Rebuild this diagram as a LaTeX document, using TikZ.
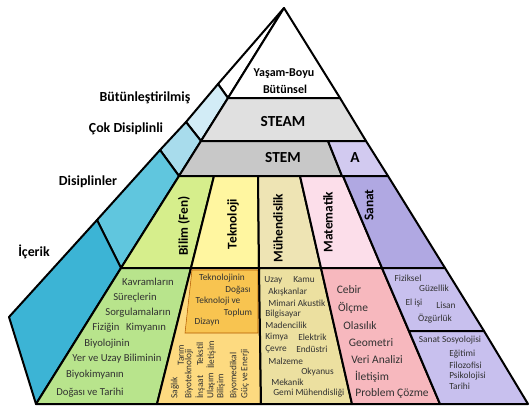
\documentclass[tikz,border=0pt]{standalone}
\usepackage{fontspec}
\setmainfont{Carlito}
\usepackage{tikz}

\definecolor{blueA}{RGB}{210,236,246}
\definecolor{blueB}{RGB}{168,220,236}
\definecolor{blueC}{RGB}{96,198,222}
\definecolor{blueD}{RGB}{60,180,213}
\definecolor{steamgray}{RGB}{224,224,224}
\definecolor{stemgray}{RGB}{200,200,200}
\definecolor{lavA}{RGB}{210,202,240}
\definecolor{bilimtop}{RGB}{214,238,140}
\definecolor{bilimlow}{RGB}{184,228,140}
\definecolor{teknotop}{RGB}{255,246,160}
\definecolor{teknolow}{RGB}{253,218,128}
\definecolor{teknodark}{RGB}{248,196,80}
\definecolor{muhtop}{RGB}{238,228,180}
\definecolor{muhlow}{RGB}{236,224,160}
\definecolor{mattop}{RGB}{252,222,234}
\definecolor{matlow}{RGB}{247,184,190}
\definecolor{sanattop}{RGB}{176,168,226}
\definecolor{sanatlow}{RGB}{200,192,238}
\definecolor{txt}{RGB}{50,50,50}

\begin{document}
\begin{tikzpicture}[x=0.75pt,y=0.75pt,yscale=-1,xscale=1,
    face/.style={draw=black, line width=1.5pt, line join=round},
    lbl/.style={inner sep=0.75pt, font=\fontsize{10.4}{12}\selectfont\bfseries},
    band/.style={inner sep=0.75pt, font=\fontsize{11.5}{13}\selectfont\bfseries},
    col/.style={inner sep=0.75pt, rotate=90, font=\fontsize{10}{12}\selectfont\bfseries},
    sm/.style={inner sep=0.75pt, text=txt, font=\fontsize{7}{8}\selectfont},
    md/.style={inner sep=0.75pt, text=txt, font=\fontsize{8}{9}\selectfont},
    mt/.style={inner sep=0.75pt, text=txt, font=\fontsize{8.6}{10}\selectfont}]
    \useasboundingbox (0,0) rectangle (530,408);

    %Shape: Polygon [left face, top]
    \draw [face, fill=white] (284,8) -- (218,84) -- (228,98) -- cycle ;
    %Shape: Polygon [left face, Bütünleştirilmiş]
    \draw [face, fill=blueA] (218,84) -- (186,122) -- (201,141) -- (228,98) -- cycle ;
    %Shape: Polygon [left face, Çok Disiplinli]
    \draw [face, fill=blueB] (186,122) -- (160,150) -- (179,176) -- (201,141) -- cycle ;
    %Shape: Polygon [left face, Disiplinler]
    \draw [face, fill=blueC] (160,150) -- (97,220) -- (121,268) -- (179,176) -- cycle ;
    %Shape: Polygon [left face, İçerik]
    \draw [face, fill=blueD] (97,220) -- (9,317) -- (36,404) -- (121,268) -- cycle ;

    %Shape: Polygon [top]
    \draw [face, fill=white] (284,8) -- (228,98) -- (340,98) -- cycle ;
    %Shape: Polygon [STEAM]
    \draw [face, fill=steamgray] (228,98) -- (340,98) -- (366,141) -- (201,141) -- cycle ;
    %Shape: Polygon [STEM]
    \draw [face, fill=stemgray] (201,141) -- (328,141) -- (342,176) -- (179,176) -- cycle ;
    %Shape: Polygon [A]
    \draw [face, fill=lavA] (328,141) -- (366,141) -- (388,176) -- (342,176) -- cycle ;

    %Shape: Polygon [columns]
    \draw [face, fill=bilimtop] (179,176) -- (214,176) -- (191,268) -- (121,268) -- cycle ;
    \draw [face, fill=teknotop] (214,176) -- (258,176) -- (259,268) -- (191,268) -- cycle ;
    \draw [face, fill=muhtop] (258,176) -- (300,176) -- (321,268) -- (259,268) -- cycle ;
    \draw [face, fill=mattop] (300,176) -- (343,176) -- (382,268) -- (321,268) -- cycle ;
    \draw [face, fill=sanattop] (343,176) -- (388,176) -- (445,268) -- (382,268) -- cycle ;

    %Shape: Polygon [contents]
    \draw [face, fill=bilimlow] (121,268) -- (191,268) -- (157,404) -- (36,404) -- cycle ;
    \draw [face, fill=teknolow] (191,268) -- (259,268) -- (261,404) -- (157,404) -- cycle ;
    \draw [draw=orange!70!black, line width=0.4pt, fill=teknodark] (192,270) -- (258,270) -- (258,333) -- (185,333) -- cycle ;
    \draw [face, fill=muhlow] (259,268) -- (321,268) -- (352,404) -- (261,404) -- cycle ;
    \draw [face, fill=matlow] (321,268) -- (382,268) -- (440,404) -- (352,404) -- cycle ;
    \draw [face, fill=sanatlow] (382,268) -- (445,268) -- (484,331) -- (409,331) -- cycle ;
    \draw [face, fill=sanatlow] (409,331) -- (484,331) -- (528,404) -- (440,404) -- cycle ;

    % Text Node
    \draw (145,98) node [lbl] (butun) {Bütünleştirilmiş};
    % Text Node
    \draw (126,129) node [lbl] (cokdis) {Çok Disiplinli};
    % Text Node
    \draw (88,182) node [lbl] (disip) {Disiplinler};
    % Text Node
    \draw (34,252) node [lbl] (icerik) {İçerik};

    % Text Node
    \draw (284,74) node [inner sep=0.75pt, font=\fontsize{9}{10}\selectfont\bfseries] (yasam) {Yaşam-Boyu};
    % Text Node
    \draw (285,89) node [inner sep=0.75pt, font=\fontsize{9}{10}\selectfont\bfseries] (butunsel) {Bütünsel};
    % Text Node
    \draw (283,122) node [band] (steam) {STEAM};
    % Text Node
    \draw (283,158) node [band] (stem) {STEM};
    % Text Node
    \draw (355,158) node [band] (artA) {A};

    % Text Node
    \draw (184,226) node [col] (bilim) {Bilim (Fen)};
    % Text Node
    \draw (233,224) node [col] (tekno) {Teknoloji};
    % Text Node
    \draw (278,228) node [col] (muh) {Mühendislik};
    % Text Node
    \draw (328,222) node [col] (mat) {Matematik};
    % Text Node
    \draw (369,205) node [col] (sanat) {Sanat};

    % Text Node
    \draw (148,282) node [md] (b1) {Kavramların};
    \draw (135,298) node [md] (b2) {Süreçlerin};
    \draw (138,313) node [md] (b3) {Sorgulamaların};
    \draw (106,328) node [md] (b4) {Fiziğin};
    \draw (146,328) node [md] (b5) {Kimyanın};
    \draw (107,344) node [md] (b6) {Biyolojinin};
    \draw (117,359) node [md] (b7) {Yer ve Uzay Biliminin};
    \draw (95,375) node [md] (b8) {Biyokimyanın};
    \draw (90,393) node [md] (b9) {Doğası ve Tarihi};

    % Text Node
    \draw (222,278) node [sm] (t1) {Teknolojinin};
    \draw (238,290) node [sm] (t2) {Doğası};
    \draw (218,301) node [sm] (t3) {Teknoloji ve};
    \draw (238,313) node [sm] (t4) {Toplum};
    \draw (207,322) node [sm] (t5) {Dizayn};

    % Text Node
    \draw (175,400) node [sm, rotate=90, anchor=west] (t6) {Sağlık};
    \draw (181,367) node [sm, rotate=90, anchor=west] (t7) {Tarım};
    \draw (189,400) node [sm, rotate=90, anchor=west] (t8) {Biyoteknoloji};
    \draw (200,400) node [sm, rotate=90, anchor=west] (t9) {İnşaat};
    \draw (200,367) node [sm, rotate=90, anchor=west] (t10) {Tekstil};
    \draw (211,400) node [sm, rotate=90, anchor=west] (t11) {Ulaşım};
    \draw (211,370) node [sm, rotate=90, anchor=west] (t12) {İletişim};
    \draw (221,400) node [sm, rotate=90, anchor=west] (t13) {Bilişim};
    \draw (234,400) node [sm, rotate=90, anchor=west] (t14) {Biyomedikal};
    \draw (245,400) node [sm, rotate=90, anchor=west] (t15) {Güç ve Enerji};

    % Text Node
    \draw (263,280) node [sm, anchor=west] (m1) {Uzay};
    \draw (292,280) node [sm, anchor=west] (m2) {Kamu};
    \draw (267,292) node [sm, anchor=west] (m3) {Akışkanlar};
    \draw (267,303) node [sm, anchor=west] (m4) {Mimari Akustik};
    \draw (264,314) node [sm, anchor=west] (m5) {Bilgisayar};
    \draw (264,325) node [sm, anchor=west] (m6) {Madencilik};
    \draw (264,337) node [sm, anchor=west] (m7) {Kimya};
    \draw (297,337) node [sm, anchor=west] (m8) {Elektrik};
    \draw (264,349) node [sm, anchor=west] (m9) {Çevre};
    \draw (295,349) node [sm, anchor=west] (m10) {Endüstri};
    \draw (267,361) node [sm, anchor=west] (m11) {Malzeme};
    \draw (300,372) node [sm, anchor=west] (m12) {Okyanus};
    \draw (270,382) node [sm, anchor=west] (m13) {Mekanik};
    \draw (272,393) node [sm, anchor=west] (m14) {Gemi Mühendisliği};

    % Text Node
    \draw (349,290) node [mt] (k1) {Cebir};
    \draw (353,308) node [mt] (k2) {Ölçme};
    \draw (360,326) node [mt] (k3) {Olasılık};
    \draw (371,343) node [mt] (k4) {Geometri};
    \draw (377,360) node [mt] (k5) {Veri Analizi};
    \draw (372,377) node [mt] (k6) {İletişim};
    \draw (392,393) node [mt] (k7) {Problem Çözme};

    % Text Node
    \draw (408,278) node [sm] (s1) {Fiziksel};
    \draw (434,288) node [sm] (s2) {Güzellik};
    \draw (414,303) node [sm] (s3) {El işi};
    \draw (446,305) node [sm] (s4) {Lisan};
    \draw (435,319) node [sm] (s5) {Özgürlük};
    \draw (450,340) node [sm] (s6) {Sanat Sosyolojisi};
    \draw (448,354) node [sm, anchor=west] (s7) {Eğitimi};
    \draw (448,365) node [sm, anchor=west] (s8) {Filozofisi};
    \draw (448,376) node [sm, anchor=west] (s9) {Psikolojisi};
    \draw (448,386) node [sm, anchor=west] (s10) {Tarihi};

\end{tikzpicture}
\end{document}
